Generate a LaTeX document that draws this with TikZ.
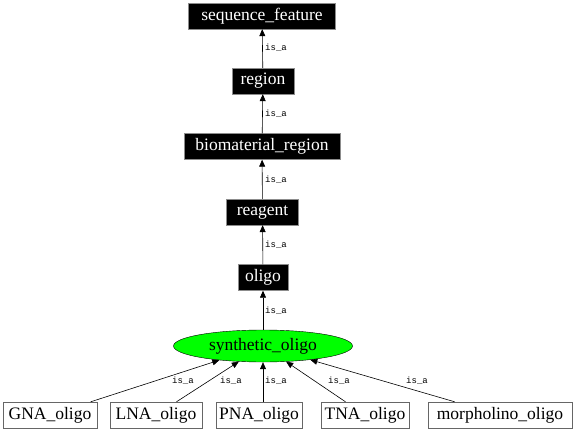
\documentclass[tikz,border=0pt]{standalone}
\usepackage{fontspec}
\setmainfont{Liberation Serif}
\newfontfamily\labfont{Liberation Mono}
\usetikzlibrary{arrows.meta,shapes.geometric}
\begin{document}
\begin{tikzpicture}[x=1pt,y=-1pt,
  dark/.style={draw=black!45, fill=black, text=white, font=\fontsize{17.5}{18}\selectfont, inner sep=0pt, minimum height=26pt},
  light/.style={draw=black!60, fill=white, text=black, font=\fontsize{17.5}{18}\selectfont, inner sep=0pt, minimum height=26pt},
  edge/.style={draw=black, line width=0.6pt, -{Triangle[length=7pt,width=6pt]}},
  lab/.style={font=\labfont\fontsize{9}{10}\selectfont, inner sep=0pt}]
\useasboundingbox (0,0) rectangle (576,431);
\node[dark, minimum width=147pt] (sf) at (262,16) {sequence\_feature};
\node[dark, minimum width=62pt] (region) at (263,81) {region};
\node[dark, minimum width=156pt] (bio) at (262,146.5) {biomaterial\_region};
\node[dark, minimum width=72pt] (reagent) at (262.5,212) {reagent};
\node[dark, minimum width=50pt] (oligo) at (263,277.5) {oligo};
\node[ellipse, draw=black, fill=green, inner sep=0pt, minimum width=179pt, minimum height=32pt, font=\fontsize{17.5}{18}\selectfont] (syn) at (263,346) {synthetic\_oligo};
\node[light, minimum width=94pt] (gna) at (50,415) {GNA\_oligo};
\node[light, minimum width=92pt] (lna) at (156,415) {LNA\_oligo};
\node[light, minimum width=86pt] (pna) at (259,415) {PNA\_oligo};
\node[light, minimum width=88pt] (tna) at (365,415) {TNA\_oligo};
\node[light, minimum width=144pt] (morph) at (500,415) {morpholino\_oligo};
\draw[edge] (region) -- (sf);
\draw[edge] (bio) -- (region);
\draw[edge] (reagent) -- (bio);
\draw[edge] (oligo) -- (reagent);
\draw[edge] (syn) -- (oligo);
\draw[edge] (gna) -- (syn);
\draw[edge] (lna) -- (syn);
\draw[edge] (pna.north -| syn.south) -- (syn.south);
\draw[edge] (tna) -- (syn);
\draw[edge] (morph) -- (syn);
\node[lab] (l1) at (276,48) {is\_a};
\node[lab] (l2) at (276,114) {is\_a};
\node[lab] (l3) at (276,180) {is\_a};
\node[lab] (l4) at (276,245) {is\_a};
\node[lab] (l5) at (276,311) {is\_a};
\node[lab] (l6) at (183,381) {is\_a};
\node[lab] (l7) at (231,381) {is\_a};
\node[lab] (l8) at (276,381) {is\_a};
\node[lab] (l9) at (339,381) {is\_a};
\node[lab] (l10) at (417,381) {is\_a};
\end{tikzpicture}
\end{document}
